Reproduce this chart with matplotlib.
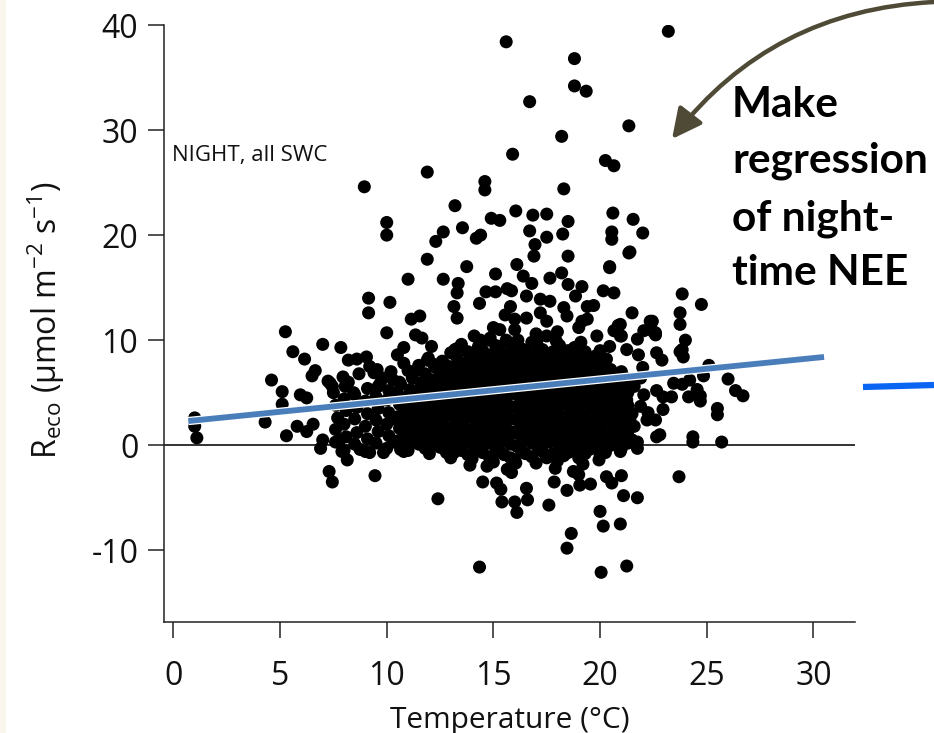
import matplotlib.pyplot as plt
import matplotlib.patheffects as pe
from matplotlib.patches import FancyArrowPatch, Rectangle
from matplotlib.lines import Line2D

plt.rcParams['font.family'] = ['Open Sans', 'DejaVu Sans']
plt.rcParams['axes.unicode_minus'] = False

# (temperature degC, Reco)
upper_points = [
    (15.6, 38.4), (18.8, 36.8), (18.8, 34.2), (19.35, 33.7), (16.7, 32.7), (18.2, 29.4),
    (15.9, 27.7), (20.25, 27.1), (20.65, 26.6), (11.9, 26.0), (8.95, 24.6), (14.6, 25.1),
    (14.6, 24.3), (18.3, 24.4), (13.2, 22.8), (16.05, 22.3), (16.85, 21.9), (17.5, 22.0),
    (20.6, 22.1), (18.5, 21.3), (10.0, 21.2), (10.0, 20.0), (14.9, 21.6), (15.3, 21.4),
    (13.55, 20.7), (12.65, 20.3), (12.3, 19.4), (14.4, 20.0), (14.2, 19.7), (16.7, 20.4),
    (18.25, 20.1), (17.5, 19.8), (16.95, 19.1), (20.55, 20.3), (20.55, 19.6), (23.2, 39.4),
    (21.35, 30.4), (21.55, 21.5), (22.0, 20.2), (21.4, 18.4), (23.85, 14.4), (24.75, 13.4),
    (21.5, 12.6), (23.75, 12.6), (23.75, 11.5), (22.45, 11.8), (24.0, 10.0), (23.85, 9.1),
    (20.45, 16.9), (20.15, 14.7), (20.65, 14.5), (19.7, 13.3), (20.95, 11.5), (20.65, 10.9),
    (22.05, 10.9), (22.6, 10.7), (23.75, 8.9), (23.9, 8.4), (22.65, 8.8), (22.9, 8.1),
    (21.8, 8.6), (22.6, 10.5), (21.75, 10.1), (20.85, 11.4), (21.0, 10.4), (22.35, 11.8),
]

mid_points = [
    (5.25, 10.8), (5.6, 8.9), (6.15, 8.2), (7.0, 9.6), (7.85, 9.3), (9.15, 14.0),
    (9.15, 12.6), (10.15, 13.6), (10.0, 10.7), (11.0, 15.8), (11.9, 17.7), (12.65, 15.8),
    (11.15, 12.0), (11.55, 12.3), (11.35, 10.5), (11.65, 10.2), (10.8, 9.3), (13.15, 13.2),
    (13.3, 14.5), (13.3, 12.1), (13.2, 9.1), (13.35, 15.4), (13.75, 17.0), (14.35, 13.5),
    (15.1, 16.3), (16.1, 17.2), (16.9, 18.0), (18.5, 18.0), (18.2, 16.4), (17.65, 15.9),
    (16.4, 16.1), (16.8, 15.4), (16.55, 14.2), (14.65, 14.6), (15.1, 14.6), (15.65, 14.9),
    (15.85, 14.7), (18.5, 15.3), (19.15, 15.1), (18.85, 14.2), (20.45, 17.0), (21.35, 18.3),
    (17.2, 13.9), (17.65, 13.7), (18.3, 13.1), (19.4, 13.2), (15.8, 13.2), (15.55, 12.4),
    (16.0, 12.0), (16.55, 12.1), (17.2, 12.6), (17.5, 11.8), (18.45, 12.3), (19.15, 11.8),
    (19.0, 11.2), (19.4, 12.0), (22.5, 10.8), (11.95, 8.3), (12.2, 7.7), (13.0, 7.4),
    (11.0, 7.1), (9.55, 7.2), (8.2, 8.1), (8.6, 8.2), (9.05, 8.4), (11.9, 8.1),
    (12.5, 6.7), (13.3, 9.2), (14.4, 10.0), (14.85, 10.2), (15.3, 11.0), (15.25, 9.4),
    (15.8, 8.8), (16.15, 10.0), (17.05, 10.0), (17.5, 10.4), (17.95, 9.9), (19.85, 10.4),
    (20.45, 9.4), (20.95, 10.4), (21.25, 9.1), (13.9, 7.8), (14.7, 7.2),
]

left_points = [
    (1.0, 2.6), (1.0, 1.8), (1.1, 0.7), (4.3, 2.2), (5.3, 0.9), (5.1, 5.1), (5.1, 3.9),
    (5.95, 4.8), (6.25, 4.5), (4.6, 6.2), (6.5, 6.6), (6.65, 7.1), (7.35, 5.9), (7.95, 6.5),
    (7.25, 6.1), (7.45, 5.6), (8.05, 5.6), (8.45, 5.0), (9.4, 6.9), (9.7, 5.9), (10.3, 6.2),
    (10.65, 5.8), (5.8, 1.8), (6.25, 1.3), (6.55, 2.0), (7.0, 0.5), (7.8, 0.5), (8.75, -0.4),
    (9.2, -0.7), (10.65, -0.4), (11.4, 0.8), (11.9, 0.0), (13.15, -0.7),
]

negative_points = [
    (6.9, -0.3), (7.9, -0.6), (8.15, -1.4), (7.3, -2.5), (7.45, -3.5), (9.45, -2.9),
    (9.85, -0.7), (10.8, -0.6), (12.4, -5.1), (12.8, -0.6), (13.9, -1.9), (14.7, -2.0),
    (14.5, -3.5), (15.15, -3.6), (15.35, -4.2), (15.4, -5.4), (15.65, -2.3), (15.85, -2.6),
    (16.05, -1.7), (16.0, -5.4), (16.1, -6.4), (16.55, -4.1), (16.6, -5.2), (17.6, -5.7),
    (17.5, -1.2), (17.9, -2.2), (17.85, -3.5), (18.45, -4.3), (18.65, -8.4), (18.45, -9.8),
    (14.35, -11.6), (20.05, -12.1), (20.0, -6.3), (20.15, -7.7), (20.95, -7.5), (21.25, -11.5),
    (19.2, -1.8), (19.05, -3.8), (19.55, -3.7), (19.0, -2.8), (18.75, -2.5), (19.95, -1.4),
    (20.3, -3.0), (20.55, -3.6), (21.0, -2.9), (21.1, -4.8), (21.75, -5.0), (23.7, -3.0),
    (20.95, -0.6), (20.25, -0.7), (19.7, 0.2), (21.75, -0.3), (21.75, 0.3),
]

right_points = [
    (25.1, 7.6), (26.0, 6.3), (26.7, 4.7), (25.5, 3.5), (24.7, 4.7), (24.2, 6.2),
    (24.85, 6.6), (26.35, 5.2), (24.55, 5.3), (24.7, 4.2), (24.15, 4.6), (25.5, 2.9),
    (23.45, 5.9), (23.85, 5.8), (23.35, 4.6), (22.95, 4.6), (22.65, 5.2), (22.95, 3.4),
    (22.6, 2.4), (22.2, 2.4), (22.8, 1.0), (22.65, 0.8), (24.35, 0.8), (24.35, 0.3),
    (25.7, 0.3), (21.9, 3.7), (21.25, 4.3), (22.05, 4.8), (22.25, 3.1), (21.4, 2.4),
]

# the dense black mass, read column by column
core_points = [
    (7.6, 0.3), (7.6, 1.5), (7.7, 2.6), (7.6, 3.8), (7.5, 5.0),
    (8.0, -0.5), (8.1, 0.8), (8.0, 2.0), (8.1, 3.3), (8.0, 4.4), (8.2, 6.0),
    (8.5, 0.1), (8.6, 1.2), (8.5, 2.5), (8.6, 3.6), (8.5, 4.8), (8.7, 6.8),
    (9.0, -0.6), (9.1, 0.6), (9.0, 1.8), (9.1, 3.0), (9.0, 4.2), (9.1, 5.4), (9.2, 7.5),
    (9.5, 0.2), (9.6, 1.3), (9.5, 2.4), (9.6, 3.5), (9.5, 4.6), (9.6, 5.6), (9.8, 6.4),
    (10.0, -0.3), (10.1, 0.9), (10.0, 2.0), (10.1, 3.1), (10.0, 4.3), (10.1, 5.2), (10.2, 7.0),
    (10.5, 0.4), (10.6, 1.6), (10.5, 2.7), (10.6, 3.9), (10.5, 5.0), (10.6, 6.0), (10.5, 8.6),
    (11.0, -0.5), (11.1, 0.8), (11.0, 1.9), (11.1, 3.0), (11.0, 4.1), (11.1, 5.3), (11.2, 6.4),
    (11.5, 0.1), (11.6, 1.3), (11.5, 2.5), (11.6, 3.6), (11.5, 4.8), (11.6, 5.9), (11.5, 7.6),
    (12.0, -0.8), (12.1, 0.5), (12.0, 1.8), (12.1, 2.9), (12.0, 4.0), (12.1, 5.2), (12.0, 6.3), (12.1, 9.4),
    (12.5, -0.2), (12.6, 1.0), (12.5, 2.2), (12.6, 3.4), (12.5, 4.5), (12.6, 5.7), (12.5, 6.9), (12.6, 8.0),
    (13.0, -1.2), (13.1, 0.3), (13.0, 1.5), (13.1, 2.7), (13.0, 3.9), (13.1, 5.0), (13.0, 6.1), (13.1, 7.3), (13.0, 8.8),
    (13.5, -0.5), (13.6, 0.8), (13.5, 2.0), (13.6, 3.2), (13.5, 4.4), (13.6, 5.5), (13.5, 6.6), (13.6, 7.8), (13.5, 9.6),
    (14.0, -1.3), (14.1, 0.0), (14.0, 1.3), (14.1, 2.5), (14.0, 3.7), (14.1, 4.9), (14.0, 6.0), (14.1, 7.2), (14.0, 8.5), (14.1, 10.4),
    (14.5, -0.7), (14.6, 0.6), (14.5, 1.8), (14.6, 3.0), (14.5, 4.2), (14.6, 5.4), (14.5, 6.5), (14.6, 7.7), (14.5, 9.0),
    (15.0, -1.6), (15.1, -0.2), (15.0, 1.1), (15.1, 2.3), (15.0, 3.5), (15.1, 4.7), (15.0, 5.9), (15.1, 7.0), (15.0, 8.2), (15.1, 9.5), (15.0, 11.2),
    (15.5, -0.9), (15.6, 0.4), (15.5, 1.6), (15.6, 2.8), (15.5, 4.0), (15.6, 5.2), (15.5, 6.4), (15.6, 7.5), (15.5, 8.7), (15.6, 10.0),
    (16.0, -1.4), (16.1, -0.1), (16.0, 1.2), (16.1, 2.4), (16.0, 3.6), (16.1, 4.8), (16.0, 6.0), (16.1, 7.1), (16.0, 8.3), (16.1, 9.6), (16.0, 11.0),
    (16.5, -0.8), (16.6, 0.5), (16.5, 1.7), (16.6, 2.9), (16.5, 4.1), (16.6, 5.3), (16.5, 6.5), (16.6, 7.7), (16.5, 8.9),
    (17.0, -1.7), (17.1, -0.3), (17.0, 1.0), (17.1, 2.2), (17.0, 3.4), (17.1, 4.6), (17.0, 5.8), (17.1, 7.0), (17.0, 8.1), (17.1, 9.3), (17.0, 10.6),
    (17.5, -1.0), (17.6, 0.3), (17.5, 1.5), (17.6, 2.7), (17.5, 3.9), (17.6, 5.1), (17.5, 6.3), (17.6, 7.5), (17.5, 8.6),
    (18.0, -1.5), (18.1, -0.2), (18.0, 1.1), (18.1, 2.3), (18.0, 3.5), (18.1, 4.7), (18.0, 5.9), (18.1, 7.1), (18.0, 8.2), (18.1, 9.5), (18.0, 10.8),
    (18.5, -0.7), (18.6, 0.6), (18.5, 1.8), (18.6, 3.0), (18.5, 4.2), (18.6, 5.4), (18.5, 6.6), (18.6, 7.8), (18.5, 9.0),
    (19.0, -1.2), (19.1, 0.1), (19.0, 1.3), (19.1, 2.5), (19.0, 3.7), (19.1, 4.9), (19.0, 6.1), (19.1, 7.3), (19.0, 8.5), (19.1, 9.8),
    (19.5, -0.4), (19.6, 0.9), (19.5, 2.1), (19.6, 3.3), (19.5, 4.5), (19.6, 5.7), (19.5, 6.9), (19.6, 8.0),
    (20.0, -0.9), (20.1, 0.4), (20.0, 1.6), (20.1, 2.8), (20.0, 4.0), (20.1, 5.2), (20.0, 6.4), (20.1, 7.6), (20.0, 9.0),
    (20.5, 0.0), (20.6, 1.2), (20.5, 2.4), (20.6, 3.6), (20.5, 4.8), (20.6, 6.0), (20.5, 7.2),
    (21.0, -0.3), (21.1, 0.9), (21.0, 2.1), (21.1, 3.3), (21.0, 4.5), (21.1, 5.7), (21.0, 7.0),
    (21.5, 0.5), (21.6, 1.8), (21.5, 3.0), (21.6, 5.6), (21.9, 6.4), (22.0, 7.4),
]

# points hidden between the columns above, where the mass is solid black
core_fill_points = [
    (10.3, 0.3), (10.3, 2.5), (10.3, 4.7),
    (10.8, -0.1), (10.8, 1.1), (10.8, 2.2), (10.8, 3.4), (10.8, 4.5), (10.8, 7.8),
    (11.3, 0.4), (11.3, 1.6), (11.3, 2.7), (11.3, 3.9), (11.3, 5.0), (11.3, 7.0),
    (11.8, -0.3), (11.8, 0.9), (11.8, 2.1), (11.8, 3.3), (11.8, 4.4), (11.8, 5.6), (11.8, 6.8),
    (12.3, 0.2), (12.3, 1.4), (12.3, 2.6), (12.3, 3.7), (12.3, 4.9), (12.3, 6.1), (12.3, 7.4),
    (12.8, -0.7), (12.8, 0.5), (12.8, 1.7), (12.8, 2.9), (12.8, 4.1), (12.8, 5.3), (12.8, 6.5), (12.8, 7.6),
    (13.3, -0.1), (13.3, 1.1), (13.3, 2.3), (13.3, 3.5), (13.3, 4.7), (13.3, 5.9), (13.3, 7.0), (13.3, 8.3),
    (13.8, -0.9), (13.8, 0.3), (13.8, 1.5), (13.8, 2.7), (13.8, 3.9), (13.8, 5.1), (13.8, 6.3), (13.8, 7.4), (13.8, 8.9),
    (14.3, -0.3), (14.3, 0.9), (14.3, 2.1), (14.3, 3.3), (14.3, 4.5), (14.3, 5.7), (14.3, 6.9), (14.3, 8.0), (14.3, 9.4),
    (14.8, -1.1), (14.8, 0.2), (14.8, 1.4), (14.8, 2.6), (14.8, 3.8), (14.8, 5.0), (14.8, 6.2), (14.8, 7.4), (14.8, 8.6), (14.8, 10.0),
    (15.3, -0.6), (15.3, 0.6), (15.3, 1.8), (15.3, 3.0), (15.3, 4.2), (15.3, 5.4), (15.3, 6.6), (15.3, 7.8), (15.3, 9.0),
    (15.8, -1.2), (15.8, 0.1), (15.8, 1.3), (15.8, 2.5), (15.8, 3.7), (15.8, 4.9), (15.8, 6.1), (15.8, 7.3), (15.8, 8.5), (15.8, 9.7),
    (16.3, -0.5), (16.3, 0.8), (16.3, 2.0), (16.3, 3.2), (16.3, 4.4), (16.3, 5.6), (16.3, 6.8), (16.3, 8.0), (16.3, 9.2),
    (16.8, -1.1), (16.8, 0.2), (16.8, 1.4), (16.8, 2.6), (16.8, 3.8), (16.8, 5.0), (16.8, 6.2), (16.8, 7.4), (16.8, 8.6), (16.8, 9.8),
    (17.3, -0.6), (17.3, 0.7), (17.3, 1.9), (17.3, 3.1), (17.3, 4.3), (17.3, 5.5), (17.3, 6.7), (17.3, 7.9), (17.3, 9.1),
    (17.8, -0.8), (17.8, 0.5), (17.8, 1.7), (17.8, 2.9), (17.8, 4.1), (17.8, 5.3), (17.8, 6.5), (17.8, 7.7), (17.8, 8.9),
    (18.3, -1.0), (18.3, 0.3), (18.3, 1.5), (18.3, 2.7), (18.3, 3.9), (18.3, 5.1), (18.3, 6.3), (18.3, 7.5), (18.3, 8.7),
    (18.8, -0.4), (18.8, 0.9), (18.8, 2.1), (18.8, 3.3), (18.8, 4.5), (18.8, 5.7), (18.8, 6.9), (18.8, 8.1), (18.8, 9.3),
    (19.3, -0.8), (19.3, 0.5), (19.3, 1.7), (19.3, 2.9), (19.3, 4.1), (19.3, 5.3), (19.3, 6.5), (19.3, 7.7), (19.3, 8.9),
    (19.8, 0.0), (19.8, 1.2), (19.8, 2.4), (19.8, 3.6), (19.8, 4.8), (19.8, 6.0), (19.8, 7.2), (19.8, 8.5),
    (20.3, -0.3), (20.3, 0.9), (20.3, 2.1), (20.3, 3.3), (20.3, 4.5), (20.3, 5.7), (20.3, 6.9), (20.3, 8.2),
    (20.8, 0.4), (20.8, 1.6), (20.8, 2.8), (20.8, 4.0), (20.8, 5.2), (20.8, 6.5),
    (21.3, 0.2), (21.3, 1.3), (21.3, 2.6), (21.3, 3.8), (21.3, 5.0), (21.3, 6.3),
]

# regression line as drawn (end points)
fit_temp = [0.7, 30.5]
fit_reco = [2.3, 8.4]

xticks = [0, 5, 10, 15, 20, 25, 30]
yticks = [-10, 0, 10, 20, 30, 40]

W, H = 934, 733
fig = plt.figure(figsize=(W / 100, H / 100), dpi=100)
fig.add_artist(Rectangle((0, 0), 6 / W, 1, transform=fig.transFigure,
                         color='#f8f5ec', lw=0, zorder=0))

ax = fig.add_axes([164 / W, 1 - 621.7 / H, (855 - 164) / W, (621.7 - 25) / H])
ax.set_xlim(-0.44, 31.95)
ax.set_ylim(-16.8, 40)

ax.axhline(0, color='#222222', lw=1.3, zorder=1)

all_points = (upper_points + mid_points + left_points + negative_points + right_points
              + core_points + core_fill_points)
t = [p[0] for p in all_points]
r = [p[1] for p in all_points]
ax.scatter(t, r, s=88, color='black', edgecolors='none', zorder=2)

ax.plot(fit_temp, fit_reco, color='#4a7ebb', lw=4.2, solid_capstyle='butt', zorder=3,
        path_effects=[pe.Stroke(linewidth=6.0, foreground='white'), pe.Normal()])

for s in ['top', 'right']:
    ax.spines[s].set_visible(False)
for s in ['left', 'bottom']:
    ax.spines[s].set_linewidth(1.1)
    ax.spines[s].set_color('#222222')

ax.set_xticks(xticks)
ax.set_yticks(yticks)
ax.tick_params(axis='both', direction='out', length=11.5, width=1.1, color='#222222',
               labelsize=23, labelcolor='#111111')
ax.tick_params(axis='x', pad=16)
ax.tick_params(axis='y', pad=7)

ax.set_xlabel('Temperature (°C)', fontsize=21.5, color='#111111')
ax.xaxis.set_label_coords(0.5, -0.141)
ax.set_ylabel('R$_{\\mathregular{eco}}$ (µmol m$^{\\mathregular{-2}}$ s$^{\\mathregular{-1}}$)',
              fontsize=23, color='#111111')
ax.yaxis.set_label_coords(-0.141, 0.506)

ax.text(0.012, 0.782, 'NIGHT, all SWC', transform=ax.transAxes, fontsize=16,
        va='center', ha='left', color='#111111')

# slide annotation
note_lines = ['Make', 'regression', 'of night-', 'time NEE']
baselines = [117, 173, 230, 285]
for line, yb in zip(note_lines, baselines):
    fig.text(732 / W, 1 - yb / H, line, fontsize=30.5, fontweight='bold',
             family='Lato', color='black', va='baseline', ha='left')

arrow = FancyArrowPatch((934 / W, 1 - 2 / H), (672 / W, 1 - 139 / H),
                        transform=fig.transFigure, connectionstyle='arc3,rad=0.23',
                        arrowstyle='-|>,head_length=0.9,head_width=0.45',
                        mutation_scale=20, color='#4f4a35', lw=3.2, shrinkA=0, shrinkB=0)
fig.add_artist(arrow)

fig.add_artist(Line2D([863 / W, 934 / W], [1 - 387 / H, 1 - 385 / H],
                      transform=fig.transFigure, color='#0a66f2', lw=4.5,
                      solid_capstyle='butt'))

fig.savefig('out.png', dpi=100)
